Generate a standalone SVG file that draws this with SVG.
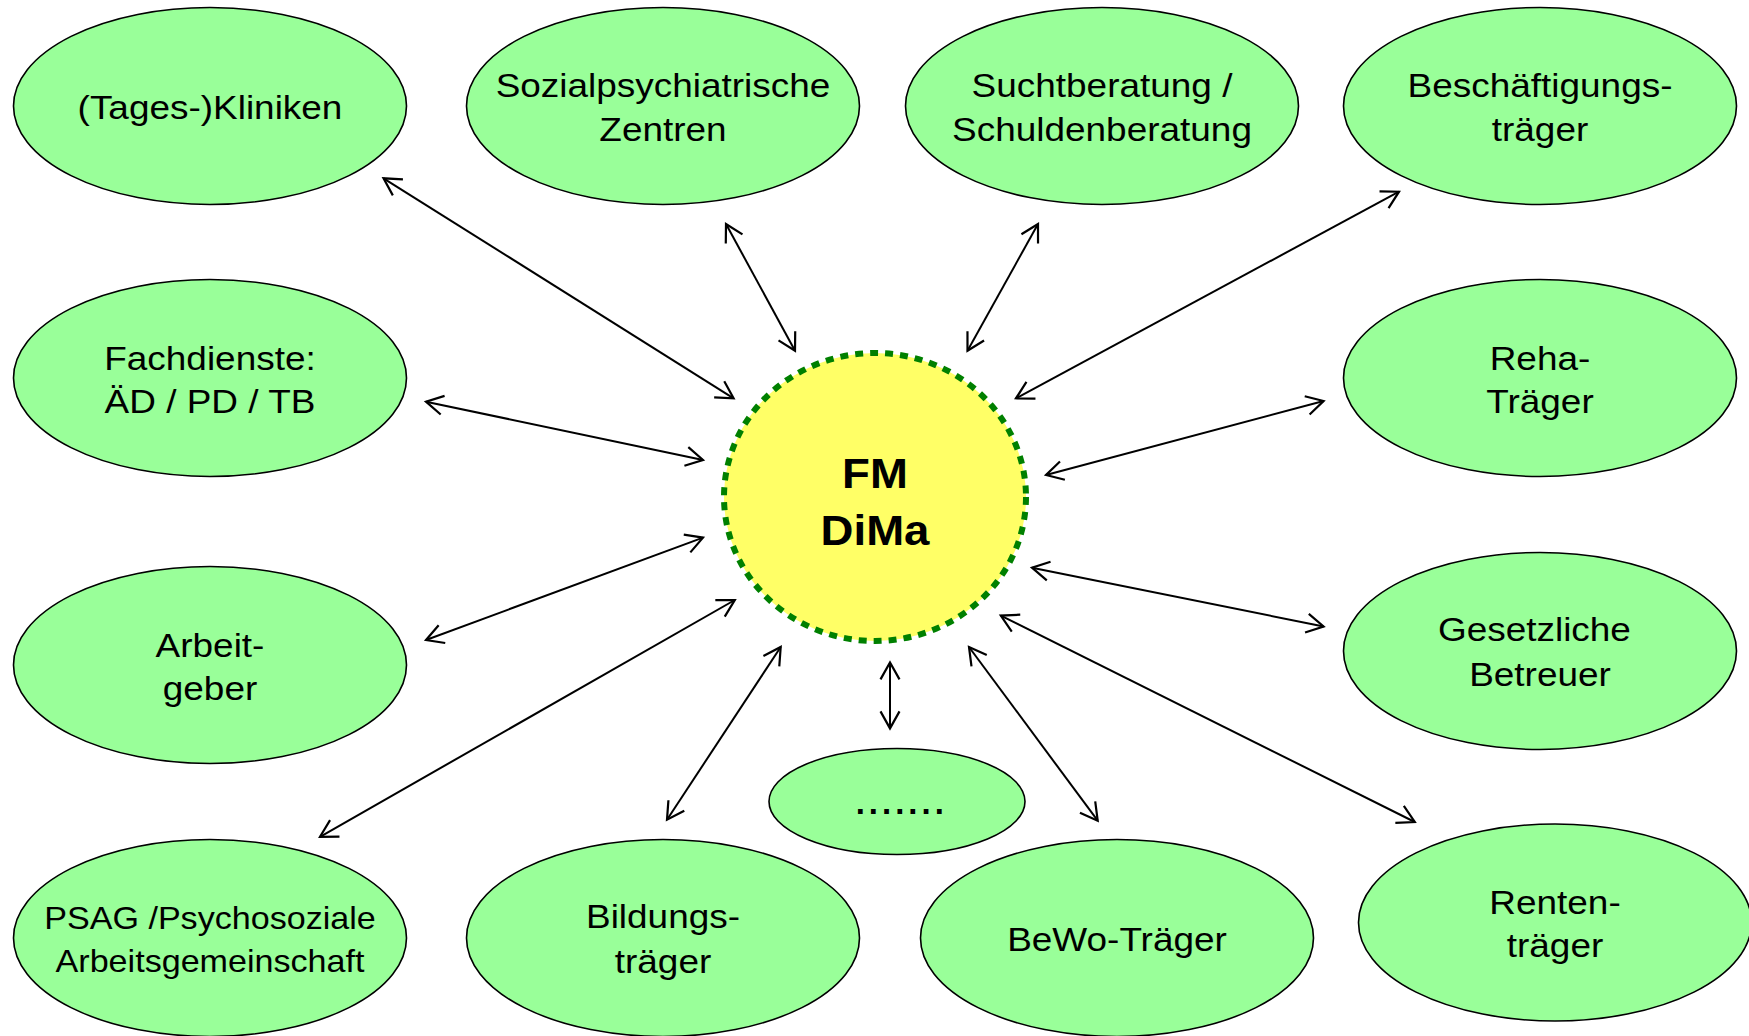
<svg xmlns="http://www.w3.org/2000/svg" width="1749" height="1036" viewBox="0 0 1749 1036">
<style>
.node ellipse{fill:#99ff99;stroke:#000;stroke-width:1.6}
.lbl{font-family:"Liberation Sans",Arial,sans-serif;font-size:33px;fill:#000;text-anchor:middle}
.conn line{stroke:#000;stroke-width:2;marker-start:url(#ah);marker-end:url(#ah)}
</style>
<defs>
<marker id="ah" markerUnits="userSpaceOnUse" viewBox="-22 -12 26 24" refX="0" refY="0" markerWidth="26" markerHeight="24" orient="auto-start-reverse">
<path d="M-17,-9.5 L0,0 L-17,9.5" fill="none" stroke="#000" stroke-width="2.2"/>
</marker>
</defs>
<rect width="1749" height="1036" fill="#fff"/>
<g id="connectors" class="conn">
<line x1="383.5" y1="178.3" x2="733.6" y2="398.3"/>
<line x1="726" y1="224" x2="795" y2="350.7"/>
<line x1="1038" y1="224" x2="967.5" y2="350.7"/>
<line x1="1399" y1="191.7" x2="1016" y2="398.3"/>
<line x1="426" y1="401.7" x2="703" y2="460"/>
<line x1="1323.6" y1="401" x2="1046" y2="475"/>
<line x1="426" y1="640" x2="703" y2="537.6"/>
<line x1="1323.6" y1="626.5" x2="1032" y2="567.7"/>
<line x1="320" y1="836.8" x2="734.8" y2="600"/>
<line x1="667" y1="819.7" x2="780.7" y2="647"/>
<line x1="890" y1="728.4" x2="890" y2="662.4"/>
<line x1="1097.7" y1="820.7" x2="969" y2="647"/>
<line x1="1414.8" y1="822" x2="1000.8" y2="615.6"/>
</g>
<g id="center">
<ellipse cx="875" cy="497" rx="151" ry="144" fill="#ffff66" stroke="#008000" stroke-width="6" stroke-dasharray="8 7"/>
<text font-family="Liberation Sans,Arial,sans-serif" font-weight="bold" font-size="43" text-anchor="middle" transform="translate(875,488) scale(1.06,1)"><tspan x="0" y="0">FM</tspan><tspan x="0" y="57">DiMa</tspan></text>
</g>
<g id="n-kliniken" class="node"><ellipse cx="210" cy="106" rx="196.5" ry="98.5"/>
<text class="lbl" transform="translate(210,119) scale(1.12,1)">(Tages-)Kliniken</text></g>
<g id="n-sozial" class="node"><ellipse cx="663" cy="106" rx="196.5" ry="98.5"/>
<text class="lbl" transform="translate(663,97) scale(1.12,1)"><tspan x="0" y="0">Sozialpsychiatrische</tspan><tspan x="0" y="44.5">Zentren</tspan></text></g>
<g id="n-sucht" class="node"><ellipse cx="1102" cy="106" rx="196.5" ry="98.5"/>
<text class="lbl" transform="translate(1102,97) scale(1.12,1)"><tspan x="0" y="0">Suchtberatung /</tspan><tspan x="0" y="44.5">Schuldenberatung</tspan></text></g>
<g id="n-besch" class="node"><ellipse cx="1540" cy="106" rx="196.5" ry="98.5"/>
<text class="lbl" transform="translate(1540,97) scale(1.12,1)"><tspan x="0" y="0">Beschäftigungs-</tspan><tspan x="0" y="44.5">träger</tspan></text></g>
<g id="n-fach" class="node"><ellipse cx="210" cy="378" rx="196.5" ry="98.5"/>
<text class="lbl" transform="translate(210,370) scale(1.12,1)"><tspan x="0" y="0">Fachdienste:</tspan><tspan x="0" y="43.5">ÄD / PD / TB</tspan></text></g>
<g id="n-reha" class="node"><ellipse cx="1540" cy="378" rx="196.5" ry="98.5"/>
<text class="lbl" transform="translate(1540,369.5) scale(1.12,1)"><tspan x="0" y="0">Reha-</tspan><tspan x="0" y="43.5">Träger</tspan></text></g>
<g id="n-arbeit" class="node"><ellipse cx="210" cy="665" rx="196.5" ry="98.5"/>
<text class="lbl" transform="translate(210,656.5) scale(1.12,1)"><tspan x="0" y="0">Arbeit-</tspan><tspan x="0" y="43.5">geber</tspan></text></g>
<g id="n-betreuer" class="node"><ellipse cx="1540" cy="651" rx="196.5" ry="98.5"/>
<text class="lbl" transform="translate(1540,641) scale(1.12,1)"><tspan x="-5" y="0">Gesetzliche</tspan><tspan x="0" y="45">Betreuer</tspan></text></g>
<g id="n-psag" class="node"><ellipse cx="210" cy="938" rx="196.5" ry="98.5"/>
<text class="lbl" style="font-size:31px" transform="translate(210,929) scale(1.1,1)"><tspan x="0" y="0">PSAG /Psychosoziale</tspan><tspan x="0" y="43">Arbeitsgemeinschaft</tspan></text></g>
<g id="n-bildung" class="node"><ellipse cx="663" cy="938" rx="196.5" ry="98.5"/>
<text class="lbl" transform="translate(663,927.5) scale(1.12,1)"><tspan x="0" y="0">Bildungs-</tspan><tspan x="0" y="46">träger</tspan></text></g>
<g id="n-more" class="node"><ellipse cx="897" cy="801.5" rx="128" ry="53"/>
<text font-family="Liberation Sans,Arial,sans-serif" font-weight="bold" font-size="33" letter-spacing="4" x="855.7" y="814">.......</text></g>
<g id="n-bewo" class="node"><ellipse cx="1117" cy="938" rx="196.5" ry="98.5"/>
<text class="lbl" transform="translate(1117,950.5) scale(1.12,1)">BeWo-Träger</text></g>
<g id="n-renten" class="node"><ellipse cx="1555" cy="922.5" rx="196.5" ry="98.5"/>
<text class="lbl" transform="translate(1555,913.5) scale(1.12,1)"><tspan x="0" y="0">Renten-</tspan><tspan x="0" y="44">träger</tspan></text></g>
</svg>
